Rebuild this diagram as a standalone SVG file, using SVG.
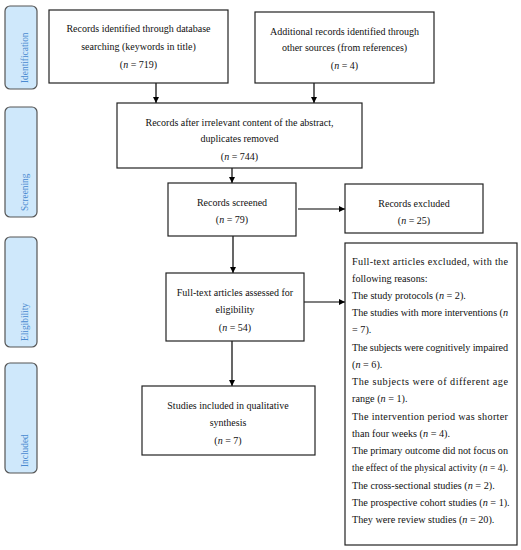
<svg xmlns="http://www.w3.org/2000/svg" width="521" height="550" viewBox="0 0 521 550">
<style>
.bg{fill:#ffffff}
.box{fill:#ffffff;stroke:#222;stroke-width:1.2}
.side{fill:#cfe8fb;stroke:#555;stroke-width:1.2}
.st{font-family:"Liberation Serif",serif;font-size:9.4px;fill:#4a8ad0}
.t{font-family:"Liberation Serif",serif;font-size:10px;fill:#111;text-anchor:middle}
.l{font-family:"Liberation Serif",serif;font-size:10.2px;fill:#111}
.c{stroke:#000;stroke-width:1.2;fill:none;marker-end:url(#ah)}
</style>
<defs>
<marker id="ah" viewBox="0 0 10 10" refX="10" refY="5" markerWidth="6" markerHeight="6" markerUnits="userSpaceOnUse" orient="auto">
<path d="M0,0 L10,5 L0,10 z" fill="#000"/>
</marker>
</defs>
<rect class="bg" x="0" y="0" width="521" height="550"/>
<g id="phase-identification"><rect class="side" x="5" y="6" width="32" height="83" rx="5"/><text class="st" transform="translate(28,83) rotate(-90)">Identification</text></g>
<g id="phase-screening"><rect class="side" x="5" y="107" width="32" height="110" rx="5"/><text class="st" transform="translate(28,211) rotate(-90)">Screening</text></g>
<g id="phase-eligibility"><rect class="side" x="5" y="237" width="32" height="110" rx="5"/><text class="st" transform="translate(28,341) rotate(-90)">Eligibility</text></g>
<g id="phase-included"><rect class="side" x="5" y="363" width="32" height="110" rx="5"/><text class="st" transform="translate(28,467) rotate(-90)">Included</text></g>

<g id="connectors">
<path class="c" d="M156,83 V103"/>
<path class="c" d="M314,83 V103"/>
<path class="c" d="M232,168 V183"/>
<path class="c" d="M298,209 H345"/>
<path class="c" d="M233,236 V273"/>
<path class="c" d="M304,302 H345"/>
<path class="c" d="M232,341 V386"/>
</g>

<g id="n-db"><rect class="box" x="49" y="10" width="179" height="73"/>
<text class="t" x="138.5" y="32">Records identified through database</text>
<text class="t" x="138.5" y="50">searching (keywords in title)</text>
<text class="t" x="138.5" y="68">(<tspan font-style="italic">n</tspan> = 719)</text></g>

<g id="n-other"><rect class="box" x="255" y="12" width="179" height="71"/>
<text class="t" x="344.5" y="35">Additional records identified through</text>
<text class="t" x="344.5" y="51">other sources (from references)</text>
<text class="t" x="344.5" y="69">(<tspan font-style="italic">n</tspan> = 4)</text></g>

<g id="n-dedup"><rect class="box" x="117" y="103" width="245" height="65"/>
<text class="t" x="239.5" y="126">Records after irrelevant content of the abstract,</text>
<text class="t" x="239.5" y="142">duplicates removed</text>
<text class="t" x="239.5" y="160">(<tspan font-style="italic">n</tspan> = 744)</text></g>

<g id="n-screened"><rect class="box" x="168" y="183" width="128" height="53"/>
<text class="t" x="232" y="206">Records screened</text>
<text class="t" x="232" y="223">(<tspan font-style="italic">n</tspan> = 79)</text></g>

<g id="n-excluded"><rect class="box" x="345" y="184" width="138" height="49"/>
<text class="t" x="414" y="207">Records excluded</text>
<text class="t" x="414" y="224">(<tspan font-style="italic">n</tspan> = 25)</text></g>

<g id="n-fulltext"><rect class="box" x="166" y="273" width="138" height="68"/>
<text class="t" x="235" y="296">Full-text articles assessed for</text>
<text class="t" x="235" y="313">eligibility</text>
<text class="t" x="235" y="331">(<tspan font-style="italic">n</tspan> = 54)</text></g>

<g id="n-included"><rect class="box" x="142" y="386" width="173" height="69"/>
<text class="t" x="228" y="409">Studies included in qualitative</text>
<text class="t" x="228" y="426">synthesis</text>
<text class="t" x="228" y="444">(<tspan font-style="italic">n</tspan> = 7)</text></g>

<g id="n-reasons"><rect class="box" x="345" y="243" width="172" height="302"/>
<text class="l" x="352" y="265" textLength="156" lengthAdjust="spacing">Full-text articles excluded, with the</text>
<text class="l" x="352" y="282">following reasons:</text>
<text class="l" x="352" y="299">The study protocols (<tspan font-style="italic">n</tspan> = 2).</text>
<text class="l" x="352" y="316" textLength="156" lengthAdjust="spacing">The studies with more interventions (<tspan font-style="italic">n</tspan></text>
<text class="l" x="352" y="333">= 7).</text>
<text class="l" x="352" y="351" textLength="156" lengthAdjust="spacing">The subjects were cognitively impaired</text>
<text class="l" x="352" y="368">(<tspan font-style="italic">n</tspan> = 6).</text>
<text class="l" x="352" y="385" textLength="156" lengthAdjust="spacing">The subjects were of different age</text>
<text class="l" x="352" y="402">range (<tspan font-style="italic">n</tspan> = 1).</text>
<text class="l" x="352" y="420" textLength="156" lengthAdjust="spacing">The intervention period was shorter</text>
<text class="l" x="352" y="437">than four weeks (<tspan font-style="italic">n</tspan> = 4).</text>
<text class="l" x="352" y="454" textLength="156" lengthAdjust="spacing">The primary outcome did not focus on</text>
<text class="l" x="352" y="471" style="font-size:9.4px" textLength="156" lengthAdjust="spacing">the effect of the physical activity (<tspan font-style="italic">n</tspan> = 4).</text>
<text class="l" x="352" y="489">The cross-sectional studies (<tspan font-style="italic">n</tspan> = 2).</text>
<text class="l" x="352" y="506">The prospective cohort studies (<tspan font-style="italic">n</tspan> = 1).</text>
<text class="l" x="352" y="523">They were review studies (<tspan font-style="italic">n</tspan> = 20).</text></g>
</svg>
